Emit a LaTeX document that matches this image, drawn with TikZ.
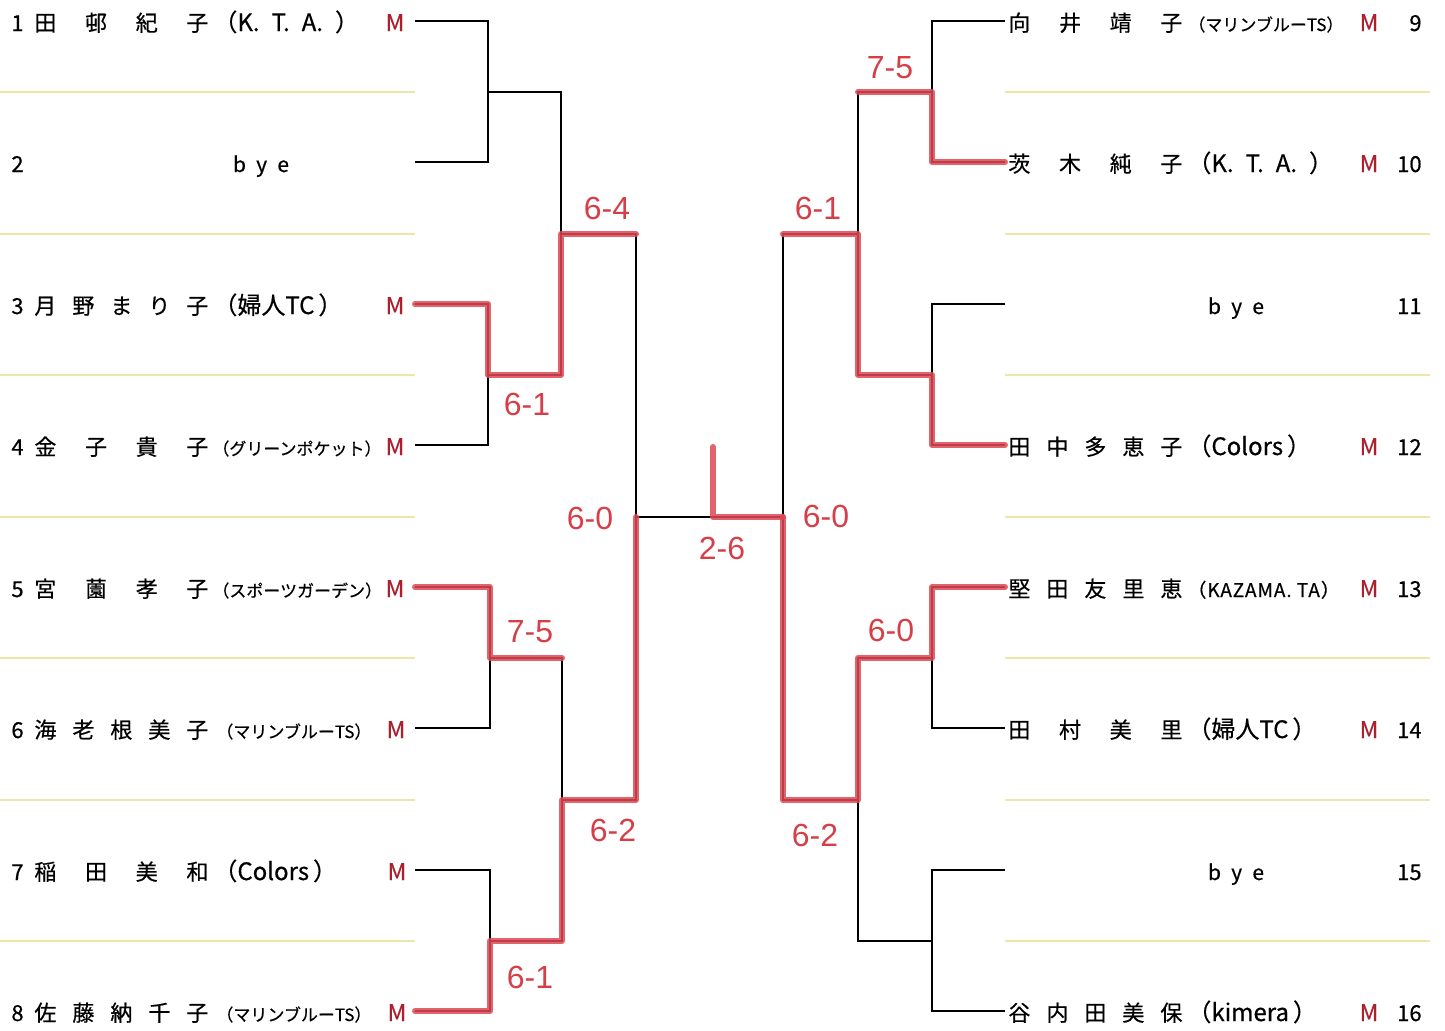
\documentclass[tikz,border=0pt]{standalone}
\usepackage{fontspec}
\setmainfont{Noto Sans CJK JP}[FakeBold=0.5]
\newfontfamily\handfont{Liberation Sans}
\definecolor{penred}{RGB}{222,72,84}
\definecolor{inkred}{RGB}{214,62,72}
\definecolor{mred}{RGB}{172,32,46}
\definecolor{ruleyellow}{RGB}{238,230,165}
\newcommand{\spreadname}[1]{\hbox to 87pt{#1}}
\tikzset{
  bracket/.style={black, line width=1.4pt},
  win/.style={penred, line width=3pt, opacity=0.85, line join=round, line cap=round},
  rowrule/.style={ruleyellow, line width=1.3pt},
  num/.style={anchor=base west, inner sep=0pt, font=\fontsize{11}{11}\selectfont},
  rnum/.style={anchor=base east, inner sep=0pt, font=\fontsize{11}{11}\selectfont},
  player/.style={anchor=base west, inner sep=0pt, font=\fontsize{11}{11}\selectfont},
  club/.style={anchor=base west, inner sep=0pt, font=\fontsize{12}{12}\selectfont},
  smallclub/.style={anchor=base west, inner sep=0pt, font=\fontsize{8.5}{8.5}\selectfont},
  mtag/.style={anchor=base, inner sep=0pt, mred, font=\fontsize{11.5}{11.5}\selectfont},
  byetext/.style={anchor=base, inner sep=0pt, font=\fontsize{10.5}{10.5}\selectfont},
  score/.style={inkred, inner sep=0pt, font=\fontsize{16}{16}\selectfont\handfont},
}
\begin{document}
\begin{tikzpicture}[x=0.5pt, y=-0.5pt]
\useasboundingbox (0,0) rectangle (1445,1030);
% row rules
\foreach \y in {92,234,375,517,658,800,941} {
  \draw[rowrule] (0,\y) -- (415,\y);
  \draw[rowrule] (1005,\y) -- (1430,\y);
}
% left side entries
\node[num] (n1) at (11,31) {1};
\node[player] (p1) at (34,31) {\spreadname{田\hfil 邨\hfil 紀\hfil 子}};
\node[club] (c1) at (213,31) {（K.\enspace T.\enspace A.\enspace）};
\node[mtag] (m1) at (395,31) {M};
\node[num] (n2) at (11,172) {2};
\node[byetext] (p2) at (261,172) {\hbox to 28pt{b\hfil y\hfil e}};
\node[num] (n3) at (11,314) {3};
\node[player] (p3) at (34,314) {\spreadname{月\hfil 野\hfil ま\hfil り\hfil 子}};
\node[club] (c3) at (213,314) {（婦人TC\,）};
\node[mtag] (m3) at (395,314) {M};
\node[num] (n4) at (11,455) {4};
\node[player] (p4) at (34,455) {\spreadname{金\hfil 子\hfil 貴\hfil 子}};
\node[smallclub] (c4) at (212,455) {（グリーンポケット）};
\node[mtag] (m4) at (395,455) {M};
\node[num] (n5) at (11,597) {5};
\node[player] (p5) at (34,597) {\spreadname{宮\hfil 薗\hfil 孝\hfil 子}};
\node[smallclub] (c5) at (212,597) {（スポーツガーデン）};
\node[mtag] (m5) at (395,597) {M};
\node[num] (n6) at (11,738) {6};
\node[player] (p6) at (34,738) {\spreadname{海\hfil 老\hfil 根\hfil 美\hfil 子}};
\node[smallclub] (c6) at (216,738) {（マリンブルーTS）};
\node[mtag] (m6) at (396,738) {M};
\node[num] (n7) at (11,880) {7};
\node[player] (p7) at (34,880) {\spreadname{稲\hfil 田\hfil 美\hfil 和}};
\node[club] (c7) at (213,880) {（Colors\,）};
\node[mtag] (m7) at (397,880) {M};
\node[num] (n8) at (11,1021) {8};
\node[player] (p8) at (34,1021) {\spreadname{佐\hfil 藤\hfil 納\hfil 千\hfil 子}};
\node[smallclub] (c8) at (216,1021) {（マリンブルーTS）};
\node[mtag] (m8) at (397,1021) {M};
% right side entries
\node[player] (p9) at (1008,31) {\spreadname{向\hfil 井\hfil 靖\hfil 子}};
\node[smallclub] (c9) at (1188,31) {（マリンブルーTS）};
\node[mtag] (m9) at (1369,31) {M};
\node[rnum] (n9) at (1422,31) {9};
\node[player] (p10) at (1008,172) {\spreadname{茨\hfil 木\hfil 純\hfil 子}};
\node[club] (c10) at (1187,172) {（K.\enspace T.\enspace A.\enspace）};
\node[mtag] (m10) at (1369,172) {M};
\node[rnum] (n10) at (1422,172) {10};
\node[byetext] (p11) at (1236,314) {\hbox to 28pt{b\hfil y\hfil e}};
\node[rnum] (n11) at (1422,314) {11};
\node[player] (p12) at (1008,455) {\spreadname{田\hfil 中\hfil 多\hfil 恵\hfil 子}};
\node[club] (c12) at (1187,455) {（Colors\,）};
\node[mtag] (m12) at (1369,455) {M};
\node[rnum] (n12) at (1422,455) {12};
\node[player] (p13) at (1008,597) {\spreadname{堅\hfil 田\hfil 友\hfil 里\hfil 恵}};
\node[smallclub, font=\fontsize{9.5}{9.5}\selectfont\addfontfeatures{LetterSpace=5}] (c13) at (1187,597) {（KAZAMA.\ TA）};
\node[mtag] (m13) at (1369,597) {M};
\node[rnum] (n13) at (1422,597) {13};
\node[player] (p14) at (1008,738) {\spreadname{田\hfil 村\hfil 美\hfil 里}};
\node[club] (c14) at (1187,738) {（婦人TC\,）};
\node[mtag] (m14) at (1369,738) {M};
\node[rnum] (n14) at (1422,738) {14};
\node[byetext] (p15) at (1236,880) {\hbox to 28pt{b\hfil y\hfil e}};
\node[rnum] (n15) at (1422,880) {15};
\node[player] (p16) at (1008,1021) {\spreadname{谷\hfil 内\hfil 田\hfil 美\hfil 保}};
\node[club] (c16) at (1187,1021) {（kimera\,）};
\node[mtag] (m16) at (1369,1021) {M};
\node[rnum] (n16) at (1422,1021) {16};
% line ends and junctions
\coordinate (a1) at (415,21);   \coordinate (a2) at (415,162);
\coordinate (a3) at (415,304);  \coordinate (a4) at (415,445);
\coordinate (a5) at (415,587);  \coordinate (a6) at (415,728);
\coordinate (a7) at (415,870);  \coordinate (a8) at (415,1011);
\coordinate (b9) at (1005,21);  \coordinate (b10) at (1005,162);
\coordinate (b11) at (1005,304); \coordinate (b12) at (1005,445);
\coordinate (b13) at (1005,587); \coordinate (b14) at (1005,728);
\coordinate (b15) at (1005,870); \coordinate (b16) at (1005,1011);
\coordinate (j12) at (488,92);   \coordinate (j34) at (488,375);
\coordinate (j56) at (490,658);  \coordinate (j78) at (490,941);
\coordinate (j14) at (561,234);  \coordinate (j58) at (562,800);
\coordinate (jL) at (636,517);
\coordinate (j910) at (932,92);   \coordinate (j1112) at (932,375);
\coordinate (j1314) at (932,658); \coordinate (j1516) at (932,941);
\coordinate (j912) at (858,234);  \coordinate (j1316) at (858,800);
\coordinate (jR) at (783,517);
\coordinate (crown) at (713,447);
% bracket
\begin{scope}[bracket]
\draw (a1) -| (j12) |- (a2);
\draw (a3) -| (j34) |- (a4);
\draw (a5) -| (j56) |- (a6);
\draw (a7) -| (j78) |- (a8);
\draw (j12) -| (j14) |- (j34);
\draw (j56) -| (j58) |- (j78);
\draw (j14) -| (jL) |- (j58);
\draw (b9) -| (j910) |- (b10);
\draw (b11) -| (j1112) |- (b12);
\draw (b13) -| (j1314) |- (b14);
\draw (b15) -| (j1516) |- (b16);
\draw (j910) -| (j912) |- (j1112);
\draw (j1314) -| (j1316) |- (j1516);
\draw (j912) -| (jR) |- (j1316);
\draw (jL) -- (jR);
\end{scope}
% winners
\draw[win] (a3) -| (j34) -| (j14) -- (j14 -| jL);
\draw[win] (a5) -| (j56) -- (j56 -| j58);
\draw[win] (a8) -| (j78) -| (j58) -| (jL);
\draw[win] (b10) -| (j910) -- (j910 -| j912);
\draw[win] (b12) -| (j1112) -| (j912) -- (j912 -| jR);
\draw[win] (b13) -| (j1314) -| (j1316) -| (jR);
\draw[win] (jR) -| (crown);
% scores
\node[score] (s34) at (527,404) {6-1};
\node[score] (s14) at (607,208) {6-4};
\node[score] (s56) at (530,632) {7-5};
\node[score] (s78) at (530,977) {6-1};
\node[score] (s58) at (613,830) {6-2};
\node[score] (sL) at (590,518) {6-0};
\node[score] (sF) at (722,548) {2-6};
\node[score] (s910) at (890,68) {7-5};
\node[score] (s912) at (818,208) {6-1};
\node[score] (s1314) at (891,630) {6-0};
\node[score] (s1316) at (815,835) {6-2};
\node[score] (sR) at (826,516) {6-0};
\end{tikzpicture}
\end{document}
